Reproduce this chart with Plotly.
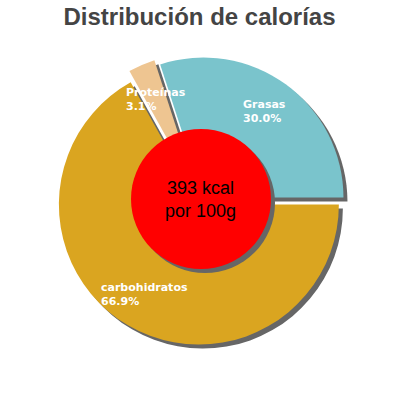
import math
import plotly.graph_objects as go

# Datos
nutrientes = ["carbohidratos", "Proteínas", "Grasas"]
porcentajes = [66.9, 3.1, 30.0]
colores = ["#DAA520", "#EEC591", "#7AC4CC"]
separacion = [0.03, 0.06, 0.03]
kcal = 393

W = 400
cx, cy = 201 / W, 1 - 201 / W      # centro del pastel
mitad = 148.4 / W                   # mitad del dominio (radio 140 px con separación)
som = 4 / W                         # desplazamiento de la sombra

fig = go.Figure()

# sombra del pastel
fig.add_trace(go.Pie(
    labels=nutrientes, values=porcentajes, sort=False,
    direction="clockwise", rotation=90, pull=separacion,
    marker=dict(colors=["#666666"] * 3, line=dict(width=0)),
    textinfo="none", hoverinfo="skip", showlegend=False,
    domain=dict(x=[cx - mitad + som, cx + mitad + som],
                y=[cy - mitad - som, cy + mitad - som]),
))

# pastel principal
fig.add_trace(go.Pie(
    labels=nutrientes, values=porcentajes, sort=False,
    direction="clockwise", rotation=90, pull=separacion,
    marker=dict(colors=colores, line=dict(width=0)),
    textinfo="none", showlegend=False,
    domain=dict(x=[cx - mitad, cx + mitad], y=[cy - mitad, cy + mitad]),
))

# etiquetas sobre cada porción, a ~110 px del centro sobre el ángulo medio
total = sum(porcentajes)
inicio = 0.0
for nombre, pct in zip(nutrientes, porcentajes):
    medio = inicio + pct / total * 180
    ang = math.radians(-medio)
    fig.add_annotation(
        x=(200 + 110 * math.cos(ang)) / W, y=1 - (200 - 110 * math.sin(ang)) / W,
        xref="paper", yref="paper", xanchor="center", yanchor="middle",
        text=f"<b>{nombre}</b><br><b>{pct:.1f}%</b>", align="left",
        showarrow=False, font=dict(family="DejaVu Sans", size=11, color="white"),
    )
    inicio += pct / total * 360

# círculo central rojo con su sombra
r = 70 / W
ccx, ccy = 201 / W, 1 - 199 / W
for off, color in [(som, "#666666"), (0, "#FF0000")]:
    fig.add_shape(type="circle", xref="paper", yref="paper", layer="above",
                  x0=ccx - r + off, x1=ccx + r + off,
                  y0=ccy - r - off, y1=ccy + r - off,
                  fillcolor=color, line=dict(width=0))

fig.add_annotation(
    x=ccx, y=1 - 199 / W, xref="paper", yref="paper", showarrow=False,
    yanchor="middle", text=f"{kcal} kcal<br>por 100g",
    font=dict(family="Liberation Sans", size=18, color="black"),
)

fig.update_layout(
    width=W, height=W,
    margin=dict(l=0, r=0, t=0, b=0),
    paper_bgcolor="white", plot_bgcolor="white",
    title=dict(text="<b>Distribución de calorías</b>", x=199.5 / W, xanchor="center",
               y=1 - 17 / W, yanchor="middle",
               font=dict(family="Liberation Sans", size=24, color="#444444")),
)

# sin el margen de 8 px del body, la figura empieza en la esquina
fig.write_html("out.html", config={"displayModeBar": False},
               post_script="document.body.style.margin = '0';")
